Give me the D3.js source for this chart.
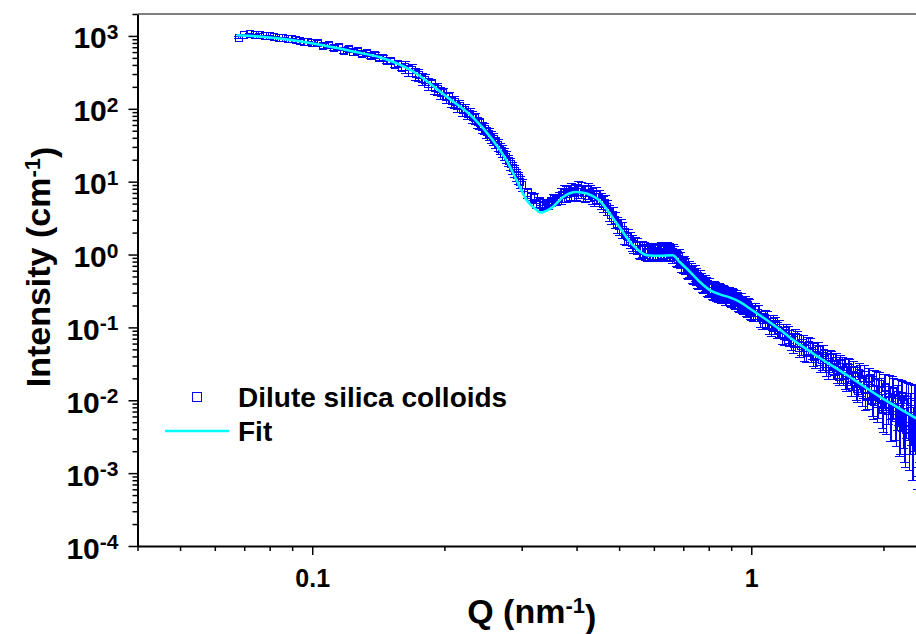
<!DOCTYPE html>
<html>
<head>
<meta charset="utf-8">
<script src="https://cdn.jsdelivr.net/npm/d3@7"></script>
<style>
  body { margin: 0; background: #fff; }
  svg text { font-family: "Liberation Sans", Arial, sans-serif; font-weight: bold; fill: #000; }
</style>
</head>
<body>
<svg id="chart" width="916" height="634"></svg>
<script>
"use strict";

// measured scattering data: Q (nm^-1), intensity (cm^-1), error
const qData = [
  0.068,0.070,0.072,0.074,0.076,0.078,0.080,0.082,0.084,0.086,0.088,0.090,0.092,0.094,0.096,0.098,0.100,
  0.103,0.106,0.109,0.112,0.115,0.118,0.121,0.124,0.127,0.130,0.133,0.136,0.139,0.142,0.145,0.148,0.151,0.154,0.157,0.160,
  0.163,0.166,0.169,0.172,0.175,0.178,0.181,0.184,0.187,0.190,0.193,0.196,0.199,0.202,0.205,0.208,0.211,0.214,0.217,0.220,
  0.223,0.226,0.229,0.232,0.235,0.238,0.241,0.244,0.247,0.250,0.253,0.256,0.259,0.262,0.265,0.268,0.271,0.274,0.277,0.280,
  0.283,0.286,0.289,0.292,0.295,0.298,0.301,
  0.31,0.32,0.33,0.34,0.35,0.36,0.37,0.38,0.39,0.40,0.41,0.42,0.43,0.44,0.45,0.46,0.47,0.48,0.49,0.50,
  0.51,0.52,0.53,0.54,0.55,0.56,0.57,0.58,0.59,0.60,0.61,0.62,0.63,0.64,0.65,0.66,0.67,0.68,0.69,0.70,
  0.71,0.72,0.73,0.74,0.75,0.76,0.77,0.78,0.79,0.80,0.81,0.82,0.83,0.84,0.85,0.86,0.87,0.88,0.89,0.90,
  0.91,0.92,0.93,0.94,0.95,0.96,0.97,0.98,0.99,1.00,
  1.025,1.050,1.075,1.100,1.125,1.150,1.175,1.200,1.225,1.250,1.275,1.300,1.325,1.350,1.375,1.400,1.425,1.450,1.475,1.500,
  1.525,1.550,1.575,1.600,1.625,1.650,1.675,1.700,1.725,1.750,1.775,1.800,1.825,1.850,1.875,1.900,1.925,1.950,1.975,2.000,
  2.025,2.050,2.075,2.100,2.125,2.150,2.175,2.200,2.225,2.250,2.275,2.300,2.325,2.350,2.375,2.400,2.425,2.450,2.475,2.500,
  // interleaved readings
  0.315,0.325,0.335,0.345,0.355,0.365,0.375,0.385,0.395,0.405,0.415,0.425,0.435,0.445,0.455,0.465,0.475,0.485,0.495,0.505,
  0.515,0.525,0.535,0.545,0.555,0.565,0.575,0.585,0.595,0.605,0.615,0.625,0.635,0.645,0.655,0.665,0.675,0.685,0.695,0.705,
  0.715,0.725,0.735,0.745,0.755,0.765,0.775,0.785,0.795,0.805,0.815,0.825,0.835,0.845,0.855,0.865,0.875,0.885,0.895,0.905,
  0.915,0.925,0.935,0.945,0.955,0.965,0.975,0.985,0.995,
  1.0125,1.0375,1.0625,1.0875,1.1125,1.1375,1.1625,1.1875,1.2125,1.2375,1.2625,1.2875,1.3125,1.3375,1.3625,1.3875,1.4125,1.4375,1.4625,1.4875,
  1.5125,1.5375,1.5625,1.5875,1.6125,1.6375,1.6625,1.6875,1.7125,1.7375,1.7625,1.7875,1.8125,1.8375,1.8625,1.8875,1.9125,1.9375,1.9625,1.9875,
  2.0125,2.0375,2.0625,2.0875,2.1125,2.1375,2.1625,2.1875,2.2125,2.2375,2.2625,2.2875,2.3125,2.3375,2.3625,2.3875,2.4125,2.4375,2.4625,2.4875
];
const iData = [
  950,1040,1050,1030,1045,1000,990,975,945,945,905,910,870,865,830,830,790,
  800,730,745,680,700,630,655,595,620,560,580,525,548,495,505,448,455,405,412,368,
  375,338,340,298,292,256,251,220,216,190,187,165,163,144,143,126,125,110,110,97,
  97,86,86,77,74,65,63,55.5,53.5,47.5,45.5,41,38.5,34.5,32,28.5,26.5,24,22,19.5,
  17.5,15.5,14,12.4,11.2,9.9,9.0,
  7.0,5.9,5.2,5.0,5.3,5.6,6.5,6.8,7.5,7.3,7.7,7.0,7.1,6.1,6.1,5.0,4.5,3.5,3.0,2.45,
  2.2,1.78,1.62,1.38,1.32,1.15,1.16,1.06,1.12,1.05,1.13,1.06,1.14,1.07,1.12,1.02,1.02,0.88,0.85,0.73,
  0.71,0.61,0.60,0.52,0.51,0.44,0.44,0.39,0.385,0.345,0.345,0.315,0.33,0.295,0.31,0.28,0.295,0.265,0.28,0.25,
  0.265,0.235,0.245,0.215,0.23,0.198,0.21,0.18,0.192,0.168,
  0.172,0.133,0.134,0.105,0.117,0.093,0.079,0.089,0.0735,0.059,0.071,0.055,0.046,0.058,0.048,0.0365,0.0487,0.0353,0.0384,0.0266,
  0.0382,0.0282,0.0221,0.0325,0.0257,0.0178,0.0279,0.0190,0.0217,0.0136,0.0226,0.0162,0.0112,0.0198,0.0149,0.0094,0.0175,0.0106,0.0133,0.0073,
  0.0149,0.0100,0.0061,0.0132,0.0071,0.0100,0.0048,0.0113,0.0069,0.0039,0.0100,0.0071,0.0033,0.0090,0.0044,0.0068,0.0027,0.0078,0.0043,0.0023,
  // interleaved readings
  6.1,5.0,4.7,4.9,5.8,6.0,7.0,7.2,7.1,7.9,7.1,7.6,6.5,6.6,5.5,5.1,3.8,3.5,2.6,2.45,
  1.85,1.75,1.45,1.37,1.19,1.20,1.10,1.08,1.14,1.10,1.08,1.16,1.10,1.16,1.06,1.10,0.92,0.93,0.76,0.76,
  0.63,0.64,0.54,0.56,0.46,0.48,0.40,0.41,0.355,0.37,0.32,0.34,0.30,0.32,0.285,0.30,0.27,0.285,0.255,0.27,
  0.24,0.255,0.222,0.235,0.205,0.215,0.188,0.198,0.172,
  0.160,0.160,0.125,0.130,0.100,0.108,0.098,0.076,0.082,0.064,0.074,0.052,0.062,0.045,0.056,0.039,0.050,0.033,0.044,0.029,
  0.039,0.025,0.035,0.021,0.031,0.019,0.029,0.016,0.026,0.0145,0.024,0.0125,0.022,0.0115,0.020,0.0098,0.018,0.0088,0.0165,0.0080,
  0.0152,0.0072,0.0140,0.0062,0.0128,0.0057,0.0118,0.0051,0.0110,0.0045,0.0102,0.0040,0.0095,0.0036,0.0088,0.0032,0.0082,0.0029,0.0077,0.0026
];
const iErr = [
  19,21,21,21,21,20,20,20,19,19,18,18,17,17,17,17,16,
  64,58,60,54,56,50,52,48,50,45,46,42,44,40,40,36,36,32,33,29,
  68,61,61,54,53,46,45,40,39,34,34,30,29,26,26,23,22.5,20,20,17.5,
  17.5,15.5,15.5,13.9,13.3,11.7,11.3,10,9.6,8.6,8.2,7.4,6.9,6.2,5.8,5.1,4.8,4.3,4.0,3.5,
  3.2,2.8,2.5,2.2,2.0,1.8,1.6,
  1.05,0.9,0.78,0.75,0.8,0.84,1.6,1.7,1.9,1.8,1.9,1.75,1.8,1.5,1.5,1.25,1.1,0.88,0.75,0.61,
  0.55,0.45,0.4,0.35,0.33,0.29,0.29,0.27,0.28,0.26,0.28,0.27,0.29,0.27,0.28,0.26,0.26,0.22,0.21,0.18,
  0.18,0.15,0.15,0.13,0.13,0.11,0.11,0.098,0.096,0.086,0.086,0.079,0.083,0.074,0.078,0.07,0.074,0.066,0.07,0.063,
  0.066,0.059,0.061,0.054,0.058,0.05,0.053,0.045,0.048,0.042,
  0.043,0.033,0.034,0.026,0.029,0.023,0.02,0.022,0.018,0.015,0.018,0.014,0.012,0.015,0.012,0.0095,0.013,0.0095,0.01,0.0075,
  0.0084,0.0065,0.0053,0.0081,0.0067,0.0048,0.0078,0.0055,0.0065,0.0042,0.0072,0.0055,0.0040,0.0075,0.0060,0.0039,0.0077,0.0049,0.0064,0.0037,
  0.0077,0.0054,0.0034,0.0077,0.0043,0.0062,0.0031,0.0075,0.0047,0.0027,0.0072,0.0053,0.0025,0.0070,0.0035,0.0056,0.0023,0.0067,0.0038,0.0021,
  // interleaved readings
  0.9,0.75,0.7,0.74,0.87,1.2,1.75,1.8,1.8,2.0,1.8,1.9,1.6,1.65,1.4,1.3,0.95,0.88,0.65,0.61,
  0.46,0.44,0.36,0.34,0.3,0.3,0.28,0.27,0.29,0.28,0.27,0.29,0.28,0.29,0.27,0.28,0.23,0.23,0.19,0.19,
  0.16,0.16,0.135,0.14,0.115,0.12,0.1,0.1,0.089,0.093,0.08,0.085,0.075,0.08,0.071,0.075,0.068,0.071,0.064,0.068,
  0.06,0.064,0.056,0.059,0.051,0.054,0.047,0.05,0.043,
  0.04,0.04,0.031,0.033,0.025,0.027,0.025,0.019,0.021,0.016,0.019,0.013,0.016,0.012,0.015,0.01,0.013,0.009,0.012,0.008,
  0.0086,0.0058,0.0084,0.0052,0.0081,0.0051,0.0081,0.0046,0.0078,0.0045,0.0077,0.0042,0.0077,0.0041,0.0076,0.0039,0.0077,0.0038,0.0076,0.0039,
  0.0076,0.0038,0.0076,0.0035,0.0074,0.0034,0.0073,0.0033,0.0073,0.0031,0.0072,0.0029,0.0071,0.0028,0.0070,0.0026,0.0068,0.0025,0.0068,0.0024
];

// model fit curve
const fitQ = [0.0673,0.0747,0.0889,0.1057,0.1263,0.1425,0.1694,0.2025,0.232,0.258,0.277,0.292,0.308,0.325,0.330,
  0.353,0.372,0.400,0.445,0.494,0.537,0.578,0.619,0.662,0.687,0.725,0.764,0.805,0.848,0.893,0.941,0.992,
  1.045,1.10,1.16,1.22,1.38,1.65,1.96,2.37,2.5];
const fitI = [1020,990,887,745,598,510,328,146,77,37,19.7,10.5,5.57,4.06,3.78,
  4.5,6.1,7.2,5.9,2.67,1.35,0.98,0.96,0.98,0.79,0.58,0.42,0.325,0.284,0.258,0.224,0.182,
  0.147,0.119,0.094,0.074,0.0443,0.0222,0.0112,0.0057,0.0047];

const xMajor = [0.1, 1];
const xMajorLabels = ["0.1", "1"];
const yMajor = [1e-4, 1e-3, 1e-2, 1e-1, 1, 10, 100, 1000];
const yExponents = ["-4", "-3", "-2", "-1", "0", "1", "2", "3"];
const seriesNames = ["Dilute silica colloids", "Fit"];

const plot = {left: 137.5, right: 926, top: 14, bottom: 546};

const x = d3.scaleLog().domain([0.04, 2.5]).range([plot.left, plot.right]);
const y = d3.scaleLog().domain([1e-4, 2000]).range([plot.bottom, plot.top]);

const svg = d3.select("#chart");

svg.append("defs").append("clipPath").attr("id", "clip")
  .append("rect")
  .attr("x", plot.left).attr("y", plot.top)
  .attr("width", plot.right - plot.left).attr("height", plot.bottom - plot.top);

// minor tick values between majors
const minorTicks = (scale) => {
  const [lo, hi] = scale.domain();
  const out = [];
  for (let e = Math.floor(Math.log10(lo)); e <= Math.ceil(Math.log10(hi)); e++) {
    for (let k = 2; k <= 9; k++) {
      const v = k * Math.pow(10, e);
      if (v >= lo * 0.999 && v <= hi * 1.001) out.push(v);
    }
  }
  return out;
};

// top frame line
svg.append("line")
  .attr("x1", plot.left).attr("x2", plot.right)
  .attr("y1", plot.top).attr("y2", plot.top)
  .attr("stroke", "#808080").attr("stroke-width", 2);

const styleAxis = g => {
  g.select(".domain").attr("stroke", "#000").attr("stroke-width", 2);
  g.selectAll(".tick line").attr("stroke", "#000").attr("stroke-width", 1.5);
};

// y axis
svg.append("g")
  .attr("transform", `translate(${plot.left},0)`)
  .call(d3.axisLeft(y).tickValues(minorTicks(y)).tickSize(5).tickSizeOuter(0).tickFormat(""))
  .call(styleAxis);

const yMajorAxis = svg.append("g")
  .attr("transform", `translate(${plot.left},0)`)
  .call(d3.axisLeft(y).tickValues(yMajor).tickSize(9).tickSizeOuter(0).tickPadding(10))
  .call(styleAxis);
yMajorAxis.select(".domain").remove();
yMajorAxis.selectAll(".tick text")
  .attr("font-size", 30)
  .attr("dy", "0.4em")
  .each(function(d, i) {
    const t = d3.select(this).text("10");
    t.append("tspan").attr("dy", "-0.45em").attr("font-size", 21).text(yExponents[i]);
  });

// x axis
svg.append("g")
  .attr("transform", `translate(0,${plot.bottom})`)
  .call(d3.axisBottom(x).tickValues(minorTicks(x).filter(v => !xMajor.includes(v))).tickSize(5).tickSizeOuter(0).tickFormat(""))
  .call(styleAxis);

const xMajorAxis = svg.append("g")
  .attr("transform", `translate(0,${plot.bottom})`)
  .call(d3.axisBottom(x).tickValues(xMajor).tickSize(9).tickSizeOuter(0).tickPadding(14)
    .tickFormat((d, i) => xMajorLabels[i]))
  .call(styleAxis);
xMajorAxis.select(".domain").remove();
xMajorAxis.selectAll(".tick text").attr("font-size", 25);

// axis titles
const xTitle = svg.append("text")
  .attr("x", (plot.left + plot.right) / 2).attr("y", 623)
  .attr("text-anchor", "middle").attr("font-size", 34)
  .text("Q (nm");
xTitle.append("tspan").attr("dy", "-0.45em").attr("font-size", 22).text("-1");
xTitle.append("tspan").attr("dy", "0.45em").text(")");

const yTitle = svg.append("text")
  .attr("transform", "translate(50,267) rotate(-90)")
  .attr("text-anchor", "middle").attr("font-size", 34)
  .text("Intensity (cm");
yTitle.append("tspan").attr("dy", "-0.45em").attr("font-size", 22).text("-1");
yTitle.append("tspan").attr("dy", "0.45em").text(")");

// data layer
const points = qData.map((q, i) => ({q, v: iData[i], e: iErr[i]}));
const dataLayer = svg.append("g").attr("clip-path", "url(#clip)");
const cap = 4.5;

dataLayer.append("g").attr("class", "errorbars")
  .attr("stroke", "#0000ff").attr("stroke-width", 1).attr("fill", "none")
  .attr("shape-rendering", "crispEdges")
  .selectAll("path")
  .data(points)
  .join("path")
  .attr("d", p => {
    const px = x(p.q);
    const yt = y(p.v + p.e);
    const yb = y(Math.max(p.v - p.e, 1e-5));
    return `M${px},${yt}V${yb}M${px - cap},${yt}H${px + cap}M${px - cap},${yb}H${px + cap}`;
  });

const sq = 7;
dataLayer.append("g").attr("class", "squares")
  .attr("shape-rendering", "crispEdges")
  .selectAll("rect")
  .data(points)
  .join("rect")
  .attr("x", p => x(p.q) - sq / 2)
  .attr("y", p => y(p.v) - sq / 2)
  .attr("width", sq).attr("height", sq)
  .attr("fill", "none").attr("stroke", "#0000ff").attr("stroke-width", 1);

const fitLine = d3.line()
  .x(d => x(d[0]))
  .y(d => y(d[1]))
  .curve(d3.curveMonotoneX);

dataLayer.append("path")
  .datum(fitQ.map((q, i) => [q, fitI[i]]))
  .attr("d", fitLine)
  .attr("fill", "none").attr("stroke", "#00ffff").attr("stroke-width", 2.5);

// legend
const legend = svg.append("g").attr("class", "legend");
legend.append("rect")
  .attr("x", 192.5).attr("y", 392.5).attr("width", 9).attr("height", 9)
  .attr("fill", "none").attr("stroke", "#0000ff").attr("stroke-width", 1);
legend.append("text").attr("x", 238).attr("y", 407).attr("font-size", 28).text(seriesNames[0]);
legend.append("line")
  .attr("x1", 165).attr("x2", 229).attr("y1", 431).attr("y2", 431)
  .attr("stroke", "#00ffff").attr("stroke-width", 2.5);
legend.append("text").attr("x", 238).attr("y", 441).attr("font-size", 28).text(seriesNames[1]);
</script>
</body>
</html>
